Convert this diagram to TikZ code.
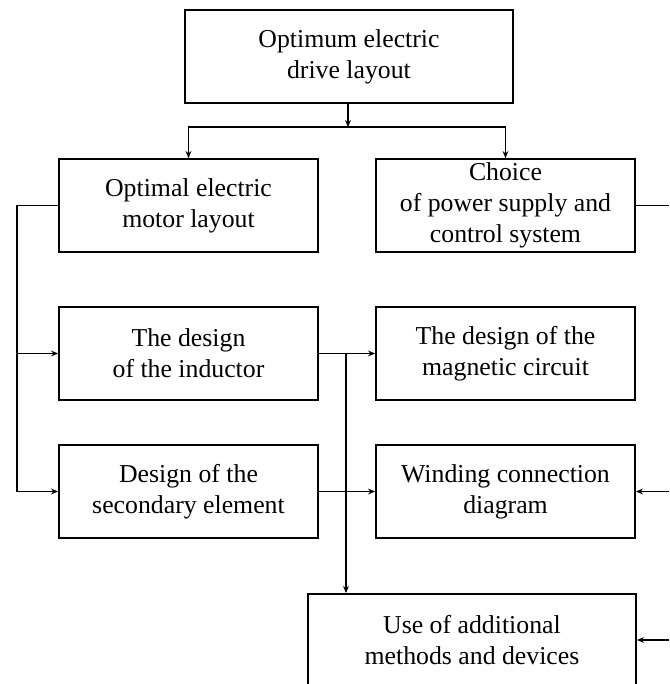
\documentclass[tikz,border=0pt]{standalone}
\usepackage{fontspec}
\setmainfont{Liberation Serif}
\usepackage{tikz}
\usetikzlibrary{shapes,arrows,arrows.meta}
\usetikzlibrary{positioning}
\tikzstyle{block} = [rectangle, draw, line width=1.6pt, align=center,
    minimum width=7.77cm, minimum height=2.79cm, inner sep=2pt,
    font=\fontsize{22}{26.5}\selectfont]
\tikzstyle{wideblock} = [block, minimum width=9.84cm]
\tikzstyle{line} = [draw, line width=0.9pt, -{Stealth[length=6pt,width=5pt]}]
\tikzstyle{wire} = [draw, line width=0.9pt]

\begin{document}
\begin{tikzpicture}[x=0.03cm,y=-0.03cm]
    \useasboundingbox (0,0) rectangle (669,684);
    \clip (0,0) rectangle (669,684);
    % Place nodes
    \node [wideblock] (layout) at (349,56.5) {Optimum electric\\drive layout};
    \node [block] (motor) at (188.5,205.5) {Optimal electric\\motor layout};
    \node [block] (supply) at (505.5,205.5) {Choice\\of power supply and\\control system};
    \node [block] (inductor) at (188.5,353.5) {The design\\of the inductor};
    \node [block] (magnetic) at (505.5,353.5) {The design of the\\magnetic circuit};
    \node [block] (secondary) at (188.5,491.5) {Design of the\\secondary element};
    \node [block] (winding) at (505.5,491.5) {Winding connection\\diagram};
    \node [wideblock] (additional) at (472,640.5) {Use of additional\\methods and devices};
    % Helper points
    \coordinate (split) at (348,127);
    \coordinate (lbus) at (17,205.5);
    \coordinate (vbus) at (346,353.5);
    \coordinate (rtop) at (669,205.5);
    \coordinate (rmid) at (669,491.5);
    \coordinate (rlow) at (669,640);
    % Draw edges
    \path [line] (layout.south -| split) -- (split);
    \path [wire] (split) -| (motor.north);
    \path [line] (motor.north |- split) -- (motor.north);
    \path [wire] (split) -| (supply.north);
    \path [line] (supply.north |- split) -- (supply.north);
    \path [wire] (motor.west) -- (lbus);
    \path [line] (lbus) |- (inductor.west);
    \path [line] (lbus) |- (secondary.west);
    \path [line] (inductor.east) -- (magnetic.west);
    \path [line] (vbus) -- (vbus |- additional.north);
    \path [line] (secondary.east) -- (winding.west);
    \path [wire] (supply.east) -- (rtop);
    \path [line] (rmid) -- (winding.east);
    \path [line] (rlow) -- (additional.east |- rlow);
\end{tikzpicture}
\end{document}
